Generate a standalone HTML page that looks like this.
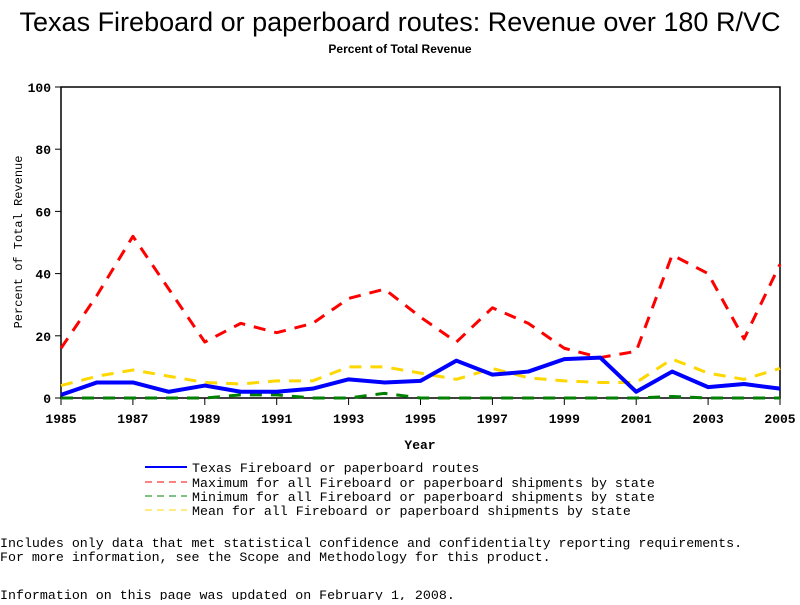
<!DOCTYPE html>
<html><head><meta charset="utf-8"><style>
body{margin:0;background:#fff;}
svg text{font-family:"Liberation Mono",monospace;}
</style></head><body>
<svg id="c" width="800" height="600" xmlns="http://www.w3.org/2000/svg">
<text x="400" y="31" text-anchor="middle" font-size="27" style="font-family:'Liberation Sans',sans-serif">Texas Fireboard or paperboard routes: Revenue over 180 R/VC</text>
<text x="400" y="53" text-anchor="middle" font-size="12" font-weight="bold" style="font-family:'Liberation Sans',sans-serif">Percent of Total Revenue</text>
<rect x="61" y="87" width="719" height="311" fill="none" stroke="#000" stroke-width="1.5"/>
<g id="axes"></g>
<g id="series"></g>
<text x="22" y="242" transform="rotate(-90 22 242)" text-anchor="middle" font-size="12">Percent of Total Revenue</text>
<text x="420" y="449" text-anchor="middle" font-size="13" font-weight="bold">Year</text>
<g font-size="13.3">
<line x1="145" y1="467" x2="187" y2="467" stroke="#0000ff" stroke-width="2"/>
<text x="192" y="472">Texas Fireboard or paperboard routes</text>
<line x1="145" y1="482" x2="187" y2="482" stroke="#ff0000" stroke-width="1" stroke-dasharray="7,5"/>
<text x="192" y="487">Maximum for all Fireboard or paperboard shipments by state</text>
<line x1="145" y1="496" x2="187" y2="496" stroke="#008000" stroke-width="1" stroke-dasharray="7,5"/>
<text x="192" y="501">Minimum for all Fireboard or paperboard shipments by state</text>
<line x1="145" y1="510" x2="187" y2="510" stroke="#ffd700" stroke-width="1" stroke-dasharray="7,5"/>
<text x="192" y="515">Mean for all Fireboard or paperboard shipments by state</text>
</g>
<g font-size="13.3">
<text x="0" y="547">Includes only data that met statistical confidence and confidentialty reporting requirements.</text>
<text x="0" y="561">For more information, see the Scope and Methodology for this product.</text>
<text x="0" y="599">Information on this page was updated on February 1, 2008.</text>
</g>
</svg>
<script>
const years=[1985,1986,1987,1988,1989,1990,1991,1992,1993,1994,1995,1996,1997,1998,1999,2000,2001,2002,2003,2004,2005];
const texas=[1,5,5,2,4,2,2,3,6,5,5.5,12,7.5,8.5,12.5,13,2,8.5,3.5,4.5,3];
const maxv=[16,33,52,35,18,24,21,24,32,35,26,18,29,24,16,13,15,46,40,19,43];
const minv=[0,0,0,0,0,1,1,0,0,1.5,0,0,0,0,0,0,0,0.5,0,0,0];
const meanv=[4,7,9,7,5,4.5,5.5,5.5,10,10,8,6,9.5,6.5,5.5,5,5,12.5,8,6,9.5];
const yTicks=[0,20,40,60,80,100];
const xTicks=[1985,1987,1989,1991,1993,1995,1997,1999,2001,2003,2005];
const NS="http://www.w3.org/2000/svg";
const X=v=>61+(v-1985)*(719/20);
const Y=v=>398-v*3.11;
const ax=document.getElementById('axes'),sg=document.getElementById('series');
function mk(t,a,p){const e=document.createElementNS(NS,t);for(const k in a)e.setAttribute(k,a[k]);p.appendChild(e);return e;}
yTicks.forEach(t=>{
 const l=mk('line',{x1:55,x2:61,y1:Y(t),y2:Y(t),stroke:'#000'},ax);
 
 
 const tx=mk('text',{x:51,y:Y(t)+5,'text-anchor':'end','font-size':13,'font-weight':'bold'},ax);tx.textContent=t;
 
 
});
xTicks.forEach(t=>{
 const l=mk('line',{x1:X(t),x2:X(t),y1:398,y2:405,stroke:'#000'},ax);
 
 
 const tx=mk('text',{x:X(t),y:423,'text-anchor':'middle','font-size':13,'font-weight':'bold'},ax);tx.textContent=t;
 
 
});
function line(vals,color,w,dash,name){
 const p=mk('polyline',{points:vals.map((v,i)=>X(years[i])+','+Y(v)).join(' '),fill:'none',stroke:color,'stroke-width':w,'stroke-dasharray':dash||'none','stroke-linejoin':'round'},sg);
 
 
}
line(minv,'#008000',3,'12,9','series-minimum');
line(meanv,'#ffd700',3,'12,9','series-mean');
line(maxv,'#ff0000',3,'12,9','series-maximum');
line(texas,'#0000ff',4,null,'series-texas');
</script>
</body></html>
